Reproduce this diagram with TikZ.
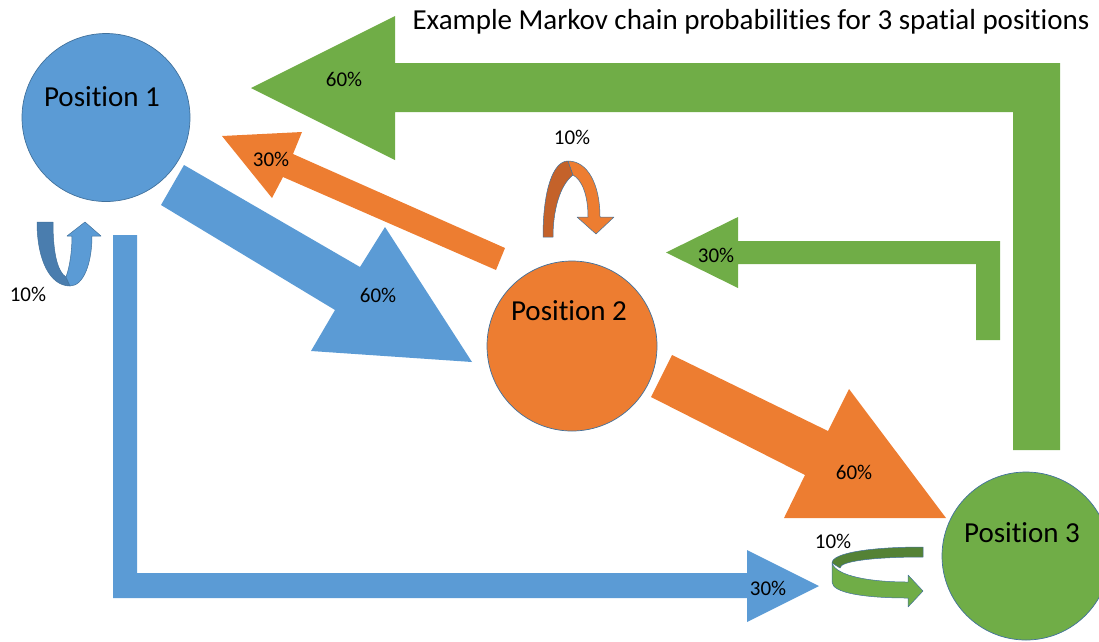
\documentclass[tikz,border=0pt]{standalone}
\usepackage{fontspec}
\setmainfont[Ligatures=NoCommon]{Carlito}
\definecolor{pblue}{HTML}{5B9BD5}
\definecolor{porange}{HTML}{ED7D31}
\definecolor{pgreen}{HTML}{70AD47}
\definecolor{pline}{HTML}{41719C}
\definecolor{dblue}{HTML}{4A7DAE}
\definecolor{dorange}{HTML}{C4622A}
\definecolor{dgreen}{HTML}{548235}
\tikzset{
  state/.style={circle, draw=pline, line width=0.7pt, inner sep=0pt},
  ptext/.style={font=\fontsize{29}{29}\selectfont, text=black},
  lab/.style={font=\fontsize{21}{21}\selectfont, text=black},
  ttl/.style={font=\fontsize{29}{29}\selectfont, text=black},
  blockarrow/.style={draw=none},
  loopline/.style={draw=pline, line width=0.5pt, line join=round},
}
\begin{document}
\begin{tikzpicture}[x=1pt, y=-1pt]
\useasboundingbox (0,0) rectangle (1099,641);
\clip (0,0) rectangle (1099,641);

% title
\node[ttl] (title) at (751,22) {Example Markov chain probabilities for 3 spatial positions};

% green 60% (3 -> 1)
\fill[pgreen, blockarrow] (1060,450) -- (1060,63) -- (395,63) -- (395,16) -- (251,88) -- (395,160) -- (395,112) -- (1013,112) -- (1013,450) -- cycle;
% green 30% (3 -> 2)
\fill[pgreen, blockarrow] (1000,340) -- (1000,241) -- (738,241) -- (738,217) -- (666,252.5) -- (738,288) -- (738,264) -- (976,264) -- (976,340) -- cycle;
% blue 30% (1 -> 3)
\fill[pblue, blockarrow] (113,235) -- (137,235) -- (137,573) -- (747,573) -- (747,550) -- (819,586) -- (747,622) -- (747,598) -- (113,598) -- cycle;
% blue 60% (1 -> 2)
\fill[pblue, blockarrow] (184,165) -- (360,267) -- (385,227) -- (472,362) -- (311,351) -- (335,310) -- (161,205) -- cycle;
% orange 30% (2 -> 1)
\fill[porange, blockarrow] (505,248) -- (293,154) -- (302,132) -- (222,136) -- (272,198) -- (283,177) -- (496,270) -- cycle;
% orange 60% (2 -> 3)
\fill[porange, blockarrow] (672,355) -- (828,431) -- (849,389) -- (946,518) -- (784,518) -- (805,475) -- (651,397) -- cycle;

% blue self loop
\filldraw[dblue, loopline] (37,222) -- (53,222) .. controls (53,255) and (58,272) .. (66,277) -- (70,286) .. controls (50,286) and (37,260) .. (37,222) -- cycle;
\filldraw[pblue, loopline] (66,277) .. controls (70,266) and (72,250) .. (72,236) -- (67,236) -- (85,222) -- (101,236) -- (92,236) .. controls (92,262) and (84,286) .. (70,286) -- cycle;

% orange self loop
\filldraw[dorange, loopline] (543,237) .. controls (543,190) and (553,161) .. (568,161) -- (573,175) .. controls (560,185) and (553,210) .. (553,237) -- cycle;
\filldraw[porange, loopline] (568,161) .. controls (588,161) and (600,185) .. (600,217) -- (614,217) -- (596,234) -- (577,217) -- (588,217) .. controls (588,195) and (582,180) .. (573,175) -- cycle;

% green self loop
\filldraw[dgreen, loopline] (923,547) -- (923,557) .. controls (875,557) and (840,561) .. (840,568) -- (832,563) .. controls (832,553) and (870,547) .. (923,547) -- cycle;
\filldraw[pgreen, loopline] (832,563) .. controls (836,576) and (870,582) .. (908,582) -- (908,575) -- (923,591) -- (908,607) -- (908,598) .. controls (865,598) and (832,593) .. (832,582) -- cycle;

% states
\node[state, fill=pblue, minimum size=168pt] (p1) at (106,117.5) {};
\node[state, fill=porange, minimum size=170pt] (p2) at (572,346) {};
\node[state, fill=pgreen, minimum size=168pt] (p3) at (1026,556) {};
\node[ptext] (t1) at (102,97) {Position 1};
\node[ptext] (t2) at (569,311) {Position 2};
\node[ptext] (t3) at (1022,533) {Position 3};

% labels
\node[lab] (l1) at (344,79) {60\%};
\node[lab] (l2) at (378,295) {60\%};
\node[lab] (l3) at (271,159) {30\%};
\node[lab] (l4) at (854,472) {60\%};
\node[lab] (l5) at (716,255) {30\%};
\node[lab] (l6) at (768,588) {30\%};
\node[lab] (l7) at (28,294) {10\%};
\node[lab] (l8) at (572,137) {10\%};
\node[lab] (l9) at (833,541) {10\%};
\end{tikzpicture}
\end{document}
